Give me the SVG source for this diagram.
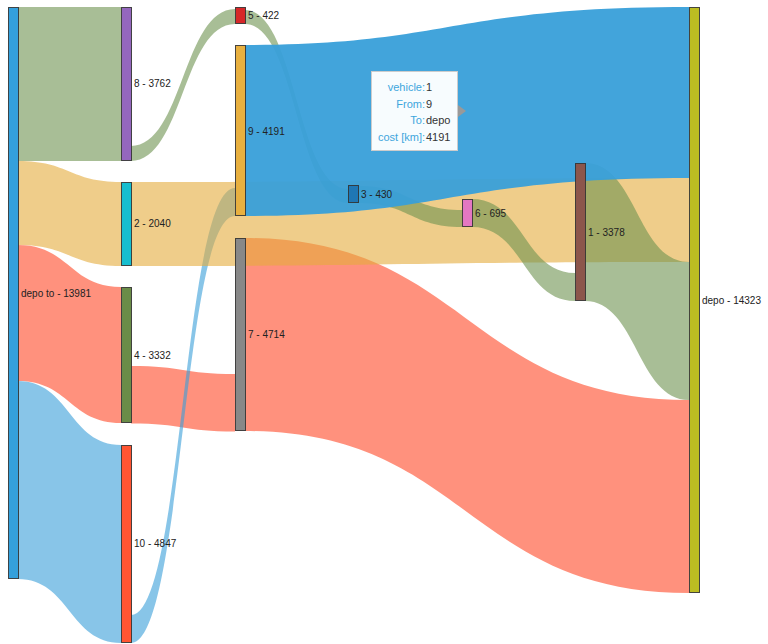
<svg xmlns="http://www.w3.org/2000/svg" width="768" height="644" viewBox="0 0 768 644">
<style>
.lk{fill-opacity:0.6;stroke:none}
.g{fill:#6e9350}
.y{fill:#e4ac3c}
.r{fill:#ff4826}
.b{fill:#389fd9}
.hov{fill-opacity:0.95}
.nd{stroke:#333;stroke-width:1;stroke-opacity:0.9}
.lb{font-family:"Liberation Sans",Arial,sans-serif;font-size:10px;fill:#222}
.tk{font-family:"Liberation Sans",Arial,sans-serif;font-size:11px;fill:#3ea6dd;text-anchor:end}
.tv{font-family:"Liberation Sans",Arial,sans-serif;font-size:11px;fill:#333}
</style>
<rect width="768" height="644" fill="#fff"/>
<g id="links">
<path class="lk g" d="M18,7 C69.5,7 69.5,7 121,7 L121,161 C69.5,161 69.5,161 18,161 Z"/>
<path class="lk y" d="M18,161 C69.5,161 69.5,182 121,182 L121,266 C69.5,266 69.5,245 18,245 Z"/>
<path class="lk r" d="M18,245 C69.5,245 69.5,287 121,287 L121,423 C69.5,423 69.5,381 18,381 Z"/>
<path class="lk b" d="M18,381 C69.5,381 69.5,445 121,445 L121,643 C69.5,643 69.5,579 18,579 Z"/>
<path class="lk r" d="M131,366 C183,366 183,374 235,374 L235,431.5 C183,431.5 183,423.5 131,423.5 Z"/>
<path class="lk r" d="M245,238 C467,238 467,400 689,400 L689,593 C467,593 467,431 245,431 Z"/>
<path class="lk b" d="M131,615 C183,615 183,188 235,188 L235,216 C183,216 183,643 131,643 Z"/>
<path class="lk y" d="M131,182 C410,182 410,178 689,178 L689,262 C410,262 410,266 131,266 Z"/>
<path class="lk g" d="M131,146 C183,146 183,9 235,9 L235,24 C183,24 183,161 131,161 Z"/>
<path class="lk g" d="M245,10 C296.5,10 296.5,189 348,189 L348,203 C296.5,203 296.5,24 245,24 Z"/>
<path class="lk g" d="M358,186 C410,186 410,210 462,210 L462,227 C410,227 410,203 358,203 Z"/>
<path class="lk g" d="M472,199 C523.5,199 523.5,273 575,273 L575,301 C523.5,301 523.5,227 472,227 Z"/>
<path class="lk g" d="M585,163 C637,163 637,262 689,262 L689,400 C637,400 637,301 585,301 Z"/>
<path class="lk b hov" d="M245,45 C450,45 450,7 689,7 L689,178 C450,178 450,216 245,216 Z"/>
</g>
<g id="node-depo-to"><rect class="nd" x="8.5" y="7.5" width="10" height="571" fill="#34a0dc"/><text class="lb" x="21" y="296.5">depo to - 13981</text></g>
<g id="node-8"><rect class="nd" x="121.5" y="7.5" width="10" height="153" fill="#9467bd"/><text class="lb" x="134" y="87">8 - 3762</text></g>
<g id="node-2"><rect class="nd" x="121.5" y="182.5" width="10" height="83" fill="#17becf"/><text class="lb" x="134" y="227">2 - 2040</text></g>
<g id="node-4"><rect class="nd" x="121.5" y="287.5" width="10" height="135" fill="#6a8c48"/><text class="lb" x="134" y="358.5">4 - 3332</text></g>
<g id="node-10"><rect class="nd" x="121.5" y="445.5" width="10" height="197" fill="#ff5532"/><text class="lb" x="134" y="547">10 - 4847</text></g>
<g id="node-5"><rect class="nd" x="235.5" y="7.5" width="10" height="16" fill="#d62728"/><text class="lb" x="248" y="19">5 - 422</text></g>
<g id="node-9"><rect class="nd" x="235.5" y="45.5" width="10" height="170" fill="#e8b040"/><text class="lb" x="248" y="134.5">9 - 4191</text></g>
<g id="node-7"><rect class="nd" x="235.5" y="238.5" width="10" height="192" fill="#888888"/><text class="lb" x="248" y="338">7 - 4714</text></g>
<g id="node-3"><rect class="nd" x="348.5" y="185.5" width="10" height="17" fill="#1f77b4"/><text class="lb" x="361" y="197.5">3 - 430</text></g>
<g id="node-6"><rect class="nd" x="462.5" y="199.5" width="10" height="27" fill="#e377c2"/><text class="lb" x="475" y="216.5">6 - 695</text></g>
<g id="node-1"><rect class="nd" x="575.5" y="163.5" width="10" height="137" fill="#8c564b"/><text class="lb" x="588" y="235.5">1 - 3378</text></g>
<g id="node-depo"><rect class="nd" x="689.5" y="7.5" width="10" height="585" fill="#bcbd22"/><text class="lb" x="702" y="303.5">depo - 14323</text></g>
<g id="tooltip">
<rect x="371.5" y="71.5" width="86" height="79" fill="#fff" fill-opacity="0.96" stroke="#cccccc" stroke-width="1"/>
<polygon points="458,105 466,111 458,117" fill="#999999"/>
<text class="tk" x="425" y="91">vehicle:</text><text class="tv" x="426" y="91">1</text>
<text class="tk" x="425" y="107.5">From:</text><text class="tv" x="426" y="107.5">9</text>
<text class="tk" x="425" y="124">To:</text><text class="tv" x="426" y="124">depo</text>
<text class="tk" x="425" y="141">cost [km]:</text><text class="tv" x="426" y="141">4191</text>
</g>
</svg>
